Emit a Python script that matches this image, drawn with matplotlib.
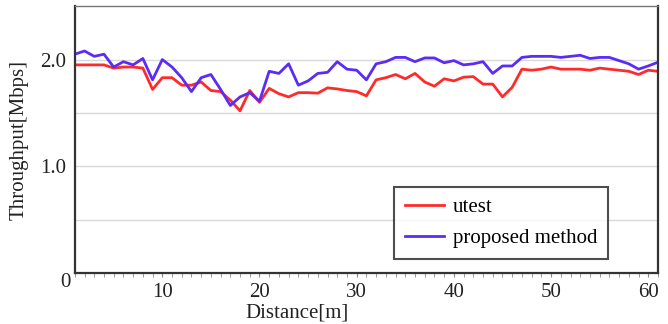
import numpy as np
import matplotlib
matplotlib.use("Agg")
import matplotlib.pyplot as plt

# Throughput samples, one per metre
distance = np.arange(1, 62)

utest = [1.95, 1.95, 1.95, 1.95, 1.92, 1.93, 1.93, 1.92, 1.72, 1.83,
         1.83, 1.76, 1.76, 1.79, 1.71, 1.70, 1.62, 1.52, 1.71, 1.60,
         1.73, 1.68, 1.65, 1.69, 1.69, 1.685, 1.735, 1.725, 1.71, 1.70,
         1.66, 1.81, 1.83, 1.86, 1.82, 1.87, 1.79, 1.75, 1.82, 1.80,
         1.835, 1.84, 1.77, 1.77, 1.65, 1.74, 1.91, 1.90, 1.91, 1.93,
         1.91, 1.91, 1.91, 1.90, 1.92, 1.91, 1.90, 1.89, 1.86, 1.90,
         1.89]

proposed = [2.05, 2.08, 2.03, 2.05, 1.93, 1.98, 1.95, 2.01, 1.81, 2.00,
            1.93, 1.83, 1.70, 1.83, 1.86, 1.72, 1.57, 1.65, 1.69, 1.61,
            1.89, 1.87, 1.96, 1.76, 1.80, 1.87, 1.88, 1.98, 1.91, 1.90,
            1.81, 1.96, 1.98, 2.02, 2.02, 1.98, 2.015, 2.015, 1.97, 1.99,
            1.95, 1.96, 1.98, 1.87, 1.94, 1.94, 2.02, 2.03, 2.03, 2.03,
            2.02, 2.03, 2.04, 2.01, 2.02, 2.02, 1.99, 1.96, 1.91, 1.94,
            1.975]

x_ticks = [10, 20, 30, 40, 50, 60]
y_ticks = [1.0, 2.0]
y_grid = [0.5, 1.0, 1.5, 2.0]

plt.rcParams['font.family'] = ['Liberation Serif', 'DejaVu Serif']

fig = plt.figure(figsize=(6.68, 3.24), dpi=100)
ax = fig.add_axes([0.112, 0.157, 0.873, 0.824])

# horizontal grid lines
for g in y_grid:
    ax.axhline(g, color='#d9d9d9', linewidth=1.0, zorder=0)

ax.plot(distance, utest, color='#ff2b2b', linewidth=2.0, label='utest')
ax.plot(distance, proposed, color='#5b2cf5', linewidth=2.0, label='proposed method')

ax.set_xlim(1, 61)
ax.set_ylim(0, 2.5)

ax.set_xticks(x_ticks)
ax.set_xticks(distance, minor=True)
ax.set_yticks(y_ticks)
ax.set_yticklabels([f'{v:.1f}' for v in y_ticks])
ax.tick_params(axis='x', which='both', direction='out', length=3,
               color='#888888', labelsize=15, pad=4, labelcolor='#222222')
ax.tick_params(axis='y', length=0, labelsize=15, pad=6, labelcolor='#222222')

# the lone "0" at the origin corner
ax.text(0, 0, '0', fontsize=15, ha='center', va='top', color='#222222',
        clip_on=False, transform=ax.transData)

for side in ['left', 'bottom', 'right', 'top']:
    ax.spines[side].set_color('#333333')
    ax.spines[side].set_linewidth(1.6)
ax.spines['top'].set_linewidth(1.0)
ax.spines['top'].set_color('#777777')

ax.set_xlabel('Distance[m]', fontsize=15, color='#222222')
ax.set_ylabel('Throughput[Mbps]', fontsize=15, color='#222222')
ax.xaxis.set_label_coords(0.381, -0.112)
ax.yaxis.set_label_coords(-0.079, 0.5)

leg = ax.legend(loc='lower left', bbox_to_anchor=(0.53, 0.015), fontsize=15,
                frameon=True, fancybox=False, handlelength=1.9,
                borderpad=0.5, labelspacing=0.55, handletextpad=0.4)
leg.get_frame().set_edgecolor('#222222')
leg.get_frame().set_linewidth(1.5)

fig.savefig('out.png', dpi=100)
